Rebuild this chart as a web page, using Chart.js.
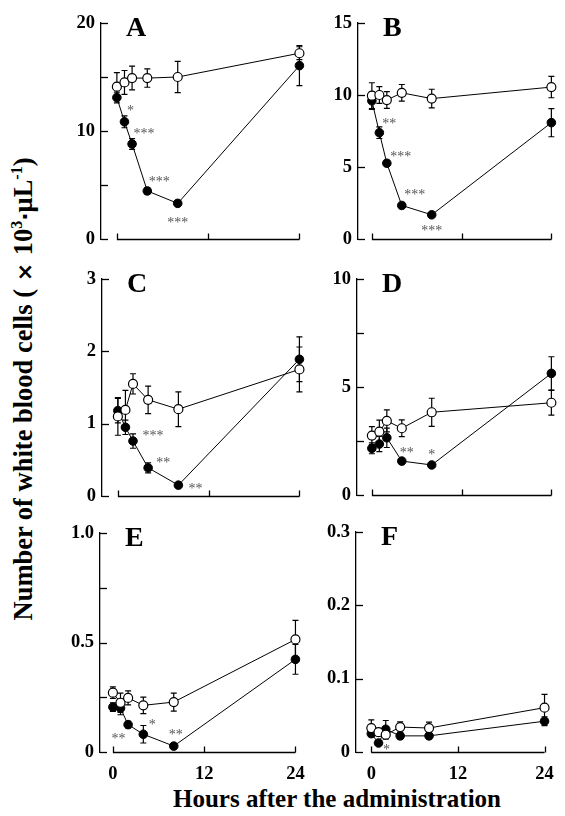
<!DOCTYPE html>
<html>
<head>
<meta charset="utf-8">
<title>Number of white blood cells</title>
<script src="https://cdn.jsdelivr.net/npm/chart.js@4.4.1/dist/chart.umd.min.js"></script>
<style>
  body { margin: 0; background: #fff; }
  #page { position: relative; width: 565px; height: 816px; overflow: hidden;
          font-family: 'Liberation Serif', 'Times New Roman', serif; color: #000; }
  #page canvas { position: absolute; }
  .ytitle { position: absolute; left: 23px; top: 389px; white-space: nowrap;
            transform: translate(-50%, -50%) rotate(-90deg);
            font-size: 26.5px; font-weight: bold; line-height: 1; }
  .ytitle .sans { font-family: 'DejaVu Sans', sans-serif; font-size: 22px; }
  .ytitle sup { font-size: 16px; line-height: 0; }
  .xtitle { position: absolute; left: 337px; top: 786px; transform: translateX(-50%);
            white-space: nowrap; font-size: 25px; font-weight: bold; line-height: 1; }
</style>
</head>
<body>
<div id="page">
  <div class="ytitle">Number of white blood cells (<span class="sans"> × </span>10<sup>3</sup><span class="sans">·</span>μL<sup>-1</sup>)</div>
  <div class="xtitle">Hours after the administration</div>
</div>

<script>
// --- DATA ---
// sampling times (h) and the labelled hour ticks
const hours = [0, 1, 2, 4, 8, 24];
const hourTicks = [0, 12, 24];

// open circles = control, filled circles = treated; err = SE
const controlA    = [14.1, 14.5, 14.9, 14.9, 15.0, 17.2];
const controlErrA = [1.3, 1.1, 1.1, 0.85, 1.45, 0.6];
const treatedA    = [13.1, 10.85, 8.8, 4.45, 3.3, 16.05];
const treatedErrA = [0.5, 0.55, 0.5, 0.3, 0.2, 1.85];
const starsA      = ['', '*', '***', '***', '***', ''];
const yTicksA     = [0, 5, 10, 15, 20];
const yLabelsA    = ['0', '', '10', '', '20'];

const controlB    = [9.95, 10.0, 9.65, 10.15, 9.75, 10.55];
const controlErrB = [0.9, 0.58, 0.58, 0.58, 0.65, 0.74];
const treatedB    = [9.6, 7.38, 5.26, 2.33, 1.68, 8.08];
const treatedErrB = [0.6, 0.4, 0.2, 0.15, 0.15, 0.98];
const starsB      = ['', '**', '***', '***', '***', ''];
const yTicksB     = [0, 5, 10, 15];
const yLabelsB    = ['0', '5', '10', '15'];

const controlC    = [1.10, 1.19, 1.55, 1.33, 1.20, 1.75];
const controlErrC = [0.26, 0.27, 0.14, 0.19, 0.24, 0.31];
const treatedC    = [1.18, 0.95, 0.76, 0.39, 0.15, 1.89];
const treatedErrC = [0.17, 0.1, 0.1, 0.07, 0.03, 0.31];
const starsC      = ['', '', '***', '**', '**', ''];
const yTicksC     = [0, 1, 2, 3];
const yLabelsC    = ['0', '1', '2', '3'];

const controlD    = [2.75, 2.93, 3.43, 3.09, 3.83, 4.27];
const controlErrD = [0.42, 0.54, 0.51, 0.39, 0.65, 0.57];
const treatedD    = [2.16, 2.36, 2.65, 1.57, 1.39, 5.63];
const treatedErrD = [0.25, 0.35, 0.45, 0.12, 0.08, 0.77];
const starsD      = ['', '', '', '**', '*', ''];
const yTicksD     = [0, 2.5, 5, 7.5, 10];
const yLabelsD    = ['0', '', '5', '', '10'];

const controlE    = [0.271, 0.225, 0.247, 0.213, 0.228, 0.514];
const controlErrE = [0.026, 0.044, 0.032, 0.038, 0.041, 0.087];
const treatedE    = [0.205, 0.200, 0.125, 0.081, 0.027, 0.423];
const treatedErrE = [0.02, 0.03, 0.015, 0.04, 0.005, 0.068];
const starsE      = ['', '**', '', '*', '**', ''];
const yTicksE     = [0, 0.25, 0.5, 0.75, 1.0];
const yLabelsE    = ['0', '', '0.5', '', '1.0'];

const controlF    = [0.0327, 0.027, 0.0236, 0.034, 0.0327, 0.0605];
const controlErrF = [0.011, 0.005, 0.006, 0.007, 0.008, 0.018];
const treatedF    = [0.025, 0.0123, 0.031, 0.022, 0.022, 0.042];
const treatedErrF = [0.004, 0.003, 0.012, 0.004, 0.003, 0.006];
const starsF      = ['', '*', '', '', '', ''];
const yTicksF     = [0, 0.1, 0.2, 0.3];
const yLabelsF    = ['0', '0.1', '0.2', '0.3'];

// --- LAYOUT (pixel positions of each panel, kept apart from the data) ---
// box = canvas rect, axisX = y-axis line, x0/x24 = pixel of hour 0 / 24,
// yTop/yBottom = pixel of the top / zero y tick, starPos = [dx, dy] of each star label
const panels = [
  { letter: 'A', control: controlA, controlErr: controlErrA, treated: treatedA, treatedErr: treatedErrA,
    stars: starsA, yTicks: yTicksA, yLabels: yLabelsA,
    box: { left: 0, top: 0, width: 320, height: 260 }, axisX: 101, x0: 117, x24: 301, yTop: 23, yBottom: 239,
    starPos: [null, [6, -13], [12, -12], [12, -11], [0, 18], null], showHours: false },
  { letter: 'B', control: controlB, controlErr: controlErrB, treated: treatedB, treatedErr: treatedErrB,
    stars: starsB, yTicks: yTicksB, yLabels: yLabelsB,
    box: { left: 320, top: 0, width: 245, height: 260 }, axisX: 358, x0: 372, x24: 553, yTop: 23, yBottom: 239,
    starPos: [null, [10, -11], [14, -8], [13, -12], [0, 14], null], showHours: false },
  { letter: 'C', control: controlC, controlErr: controlErrC, treated: treatedC, treatedErr: treatedErrC,
    stars: starsC, yTicks: yTicksC, yLabels: yLabelsC,
    box: { left: 0, top: 260, width: 320, height: 255 }, axisX: 102, x0: 118, x24: 301, yTop: 279, yBottom: 496,
    starPos: [null, null, [20, -7], [15, -7], [17, 2], null], showHours: false },
  { letter: 'D', control: controlD, controlErr: controlErrD, treated: treatedD, treatedErr: treatedErrD,
    stars: starsD, yTicks: yTicksD, yLabels: yLabelsD,
    box: { left: 320, top: 260, width: 245, height: 255 }, axisX: 357, x0: 372, x24: 553, yTop: 279, yBottom: 495,
    starPos: [null, null, null, [5, -10], [0, -12], null], showHours: false },
  { letter: 'E', control: controlE, controlErr: controlErrE, treated: treatedE, treatedErr: treatedErrE,
    stars: starsE, yTicks: yTicksE, yLabels: yLabelsE,
    box: { left: 0, top: 515, width: 320, height: 270 }, axisX: 100, x0: 113, x24: 297, yTop: 533, yBottom: 752,
    starPos: [null, [-2, 29], null, [9, -11], [2, -13], null], showHours: true },
  { letter: 'F', control: controlF, controlErr: controlErrF, treated: treatedF, treatedErr: treatedErrF,
    stars: starsF, yTicks: yTicksF, yLabels: yLabelsF,
    box: { left: 320, top: 515, width: 245, height: 270 }, axisX: 356, x0: 372, x24: 553, yTop: 532, yBottom: 752,
    starPos: [null, [8, 5], null, null, null, null], showHours: true }
];

const SERIF = "'Liberation Serif', 'Times New Roman', serif";

document.addEventListener('DOMContentLoaded', () => {
  const page = document.getElementById('page');
  panels.forEach(p => {
    const canvas = document.createElement('canvas');
    canvas.width = p.box.width;
    canvas.height = p.box.height;
    canvas.style.left = p.box.left + 'px';
    canvas.style.top = p.box.top + 'px';
    page.appendChild(canvas);
    drawPanel(canvas, p);
  });
});

// --- Extra drawing: error bars, inward ticks, hour bracket, letter, stars ---
function makeDecor(p) {
  return {
    id: 'decor' + p.letter,
    beforeDatasetsDraw(chart) {
      const ctx = chart.ctx;
      const xs = chart.scales.x, ys = chart.scales.y;
      const area = chart.chartArea;
      ctx.save();
      ctx.strokeStyle = '#000';

      // y ticks point into the plot
      ctx.lineWidth = 1.3;
      p.yTicks.forEach(v => {
        const y = Math.round(ys.getPixelForValue(v)) + 0.5;
        ctx.beginPath();
        ctx.moveTo(area.left, y);
        ctx.lineTo(area.left + 7, y);
        ctx.stroke();
      });

      // hour axis is a bracket from 0 to 24 h with upward ticks
      const yb = Math.round(ys.getPixelForValue(0)) + 0.5;
      ctx.beginPath();
      ctx.moveTo(xs.getPixelForValue(hourTicks[0]), yb);
      ctx.lineTo(xs.getPixelForValue(hourTicks[hourTicks.length - 1]), yb);
      hourTicks.forEach(h => {
        const x = Math.round(xs.getPixelForValue(h)) + 0.5;
        ctx.moveTo(x, yb);
        ctx.lineTo(x, yb - 6);
      });
      ctx.stroke();

      // error bars (drawn under the markers)
      ctx.lineWidth = 1.2;
      chart.data.datasets.forEach((ds, di) => {
        const meta = chart.getDatasetMeta(di);
        meta.data.forEach((pt, i) => {
          const v = ds.data[i].y, e = ds.err[i];
          const y1 = ys.getPixelForValue(v + e), y2 = ys.getPixelForValue(v - e);
          ctx.beginPath();
          ctx.moveTo(pt.x, y1); ctx.lineTo(pt.x, y2);
          ctx.moveTo(pt.x - 3, y1); ctx.lineTo(pt.x + 3, y1);
          ctx.moveTo(pt.x - 3, y2); ctx.lineTo(pt.x + 3, y2);
          ctx.stroke();
        });
      });
      ctx.restore();
    },
    afterDatasetsDraw(chart) {
      const ctx = chart.ctx;
      const area = chart.chartArea;
      ctx.save();
      ctx.fillStyle = '#000';
      ctx.font = 'bold 28px ' + SERIF;
      ctx.textBaseline = 'alphabetic';
      ctx.fillText(p.letter, area.left + 25, area.top + 13);

      // significance marks, placed next to the treated points
      const meta = chart.getDatasetMeta(1);
      ctx.fillStyle = '#555';
      ctx.font = '14px ' + SERIF;
      ctx.textAlign = 'center';
      p.stars.forEach((s, i) => {
        if (!s || !p.starPos[i]) return;
        const pt = meta.data[i];
        ctx.fillText(s, pt.x + p.starPos[i][0], pt.y + p.starPos[i][1] + 6);
      });
      ctx.restore();
    }
  };
}

function drawPanel(canvas, p) {
  const pph = (p.x24 - p.x0) / 24;
  const padRight = 4;
  const xMin = -(p.x0 - p.axisX) / pph;
  const xMax = (p.box.left + p.box.width - padRight - p.x0) / pph;
  const xAxisHeight = p.showHours ? p.box.top + p.box.height - p.yBottom : 0;
  const tickFont = { family: SERIF, size: 18.5, weight: 'bold' };

  new Chart(canvas, {
    type: 'line',
    data: {
      datasets: [
        {
          label: 'Control',
          data: hours.map((h, i) => ({ x: h, y: p.control[i] })),
          err: p.controlErr,
          borderColor: '#000',
          borderWidth: 1,
          pointRadius: 4.5,
          pointBorderWidth: 1.2,
          pointBorderColor: '#000',
          pointBackgroundColor: '#fff',
          tension: 0
        },
        {
          label: 'Treated',
          data: hours.map((h, i) => ({ x: h, y: p.treated[i] })),
          err: p.treatedErr,
          borderColor: '#000',
          borderWidth: 1,
          pointRadius: 4.3,
          pointBorderWidth: 1,
          pointBorderColor: '#000',
          pointBackgroundColor: '#000',
          tension: 0
        }
      ]
    },
    options: {
      responsive: false,
      animation: false,
      events: [],
      layout: {
        padding: {
          left: 0,
          right: padRight,
          top: p.yTop - p.box.top,
          bottom: p.box.top + p.box.height - p.yBottom - xAxisHeight
        }
      },
      plugins: { legend: { display: false }, tooltip: { enabled: false } },
      scales: {
        x: {
          type: 'linear',
          min: xMin,
          max: xMax,
          display: p.showHours,
          grid: { display: false, drawTicks: false },
          border: { display: false },
          afterBuildTicks: s => { s.ticks = hourTicks.map(v => ({ value: v })); },
          afterFit: s => { s.height = xAxisHeight; },
          ticks: { padding: 11, color: '#000', font: tickFont, maxRotation: 0, autoSkip: false }
        },
        y: {
          min: p.yTicks[0],
          max: p.yTicks[p.yTicks.length - 1],
          grid: { display: false, drawTicks: false },
          border: { display: true, color: '#000', width: 1.3 },
          afterBuildTicks: s => { s.ticks = p.yTicks.map(v => ({ value: v })); },
          afterFit: s => { s.width = p.axisX - p.box.left; },
          ticks: {
            padding: 6,
            color: '#000',
            font: tickFont,
            autoSkip: false,
            callback: (v, i) => p.yLabels[i]
          }
        }
      }
    },
    plugins: [makeDecor(p)]
  });
}
</script>
</body>
</html>
